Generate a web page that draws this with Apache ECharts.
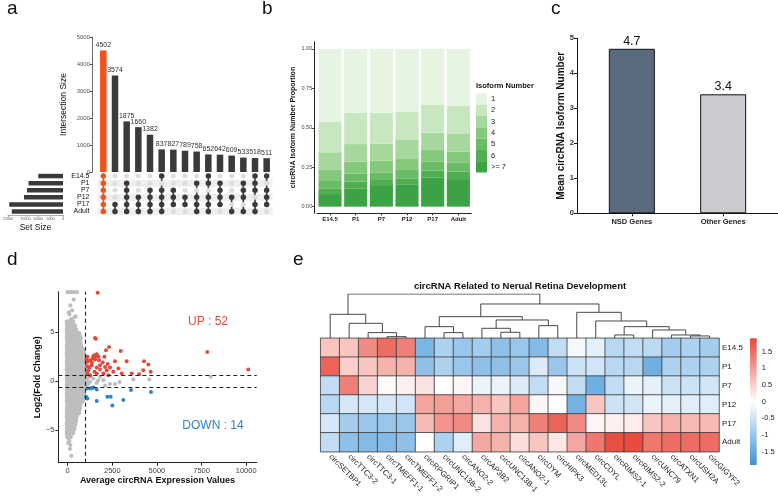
<!DOCTYPE html>
<html><head><meta charset="utf-8">
<script src="https://cdn.jsdelivr.net/npm/echarts@6/dist/echarts.min.js"></script>
<style>html,body{margin:0;padding:0;background:#fff}#c{width:778px;height:496px}</style>
</head><body><div id="c"></div>
<script>
// ================= DATA =================
// Panel a (UpSet)
const upsetCounts = [4502,3574,1875,1660,1382,837,827,789,758,652,642,609,533,518,511];
const upsetMembers = [
  ['E14.5','P1','P7','P12','P17','Adult'],
  ['P17','Adult'],
  ['P1','P7','P12','P17','Adult'],
  ['P12','P17','Adult'],
  ['P7','P12','P17','Adult'],
  ['E14.5','P7','P12','P17','Adult'],
  ['P7','P12','P17'],
  ['P12','P17'],
  ['P1','P12','P17','Adult'],
  ['E14.5','P1','P12','P17','Adult'],
  ['P1','P7','P12','P17'],
  ['P12','Adult'],
  ['P1','P7','P12','Adult'],
  ['E14.5','P1','P7','P17','Adult'],
  ['E14.5','P7','P12','P17']
];
const setNames = ['E14.5','P1','P7','P12','P17','Adult'];
const setSizes = [9900,13800,14400,15600,21500,20500];

// Panel b
const stages = ['E14.5','P1','P7','P12','P17','Adult'];
const isoLevels = ['1','2','3','4','5','6','>= 7'];
const propIso1 = [0.461,0.404,0.404,0.397,0.355,0.362];
const propIso2 = [0.194,0.199,0.196,0.176,0.176,0.177];
const propIso3 = [0.112,0.112,0.108,0.125,0.110,0.112];
const propIso4 = [0.070,0.076,0.076,0.069,0.074,0.068];
const propIso5 = [0.047,0.050,0.047,0.053,0.057,0.059];
const propIso6 = [0.036,0.043,0.038,0.038,0.042,0.047];
const propIso7 = [0.080,0.116,0.131,0.142,0.186,0.175];
const propTicks = [0,0.25,0.5,0.75,1];

// Panel c
const geneGroups = ['NSD Genes','Other Genes'];
const meanIsoform = [4.7, 3.4];

// Panel d (MA plot)
const foldCut = 0.585;
const exprCut = 1000;
const maUp = [
  [1680,9.0],[1531,4.39],[1580,4.3],
  [1437,2.53],[1550,2.64],[1624,2.74],[1400,2.30],[1531,2.2],[1251,2.13],[1101,1.96],[1718,2.47],[1101,2.47],
  [2147,3.14],[2315,3.48],[2969,3.07],
  [2054,2.47],[2651,2.03],[3305,2.03],[4275,2.03],[4518,1.69],[4238,1.11],[3585,0.78],[4000,0.71],[4650,0.95],
  [7823,2.97],[10119,1.18],
  [1811,1.62],[2091,1.45],[2184,1.11],[1811,1.18],[1158,1.11],[1214,1.39],[1344,1.62],[1624,1.39],[2371,1.39],
  [2558,0.95],[2838,1.28],[3025,0.78],[1998,0.78],[1624,0.78],[1101,0.78],[1251,0.61],[2278,0.61],
  [1755,2.13],[1960,1.89],[1101,1.52],[1480,2.6],[1600,2.5],[1350,1.9],[2240,1.75],[1050,2.2],[1500,0.95]
];
const maDown = [
  [1288,-0.74],[1437,-0.64],[1624,-0.84],[1120,-0.74],[1027,-1.59],[1101,-1.76],[1624,-2.03],
  [2222,-1.59],[2408,-1.59],[2502,-2.47],[3118,-1.93],[3547,-0.91],[4667,-1.11],[1350,-0.7]
];
// dense grey core of non-significant circRNAs: [log2FC, [expression values...]]
const maGreyCore = [
  [6.0,[0,150,260]],
  [5.6,[20,190,360]],
  [5.2,[0,210,420]],
  [4.8,[10,230,460,610]],
  [4.4,[0,240,480,680]],
  [4.0,[20,220,440,650]],
  [3.6,[0,250,470,700]],
  [3.2,[10,230,460,690,820]],
  [2.8,[0,240,480,700,860]],
  [2.4,[20,220,450,680,880]],
  [2.0,[0,250,470,710,900]],
  [1.6,[10,230,460,690,930]],
  [1.2,[0,240,480,700,940]],
  [0.8,[20,220,450,680,910]],
  [0.4,[0,250,470,710,950]],
  [0.0,[10,230,460,690,930]],
  [-0.4,[0,240,480,700,940]],
  [-0.8,[20,220,450,680,900]],
  [-1.2,[0,250,470,710,870]],
  [-1.6,[10,230,460,690,830]],
  [-2.0,[0,240,480,700,790]],
  [-2.4,[20,220,450,660]],
  [-2.8,[0,250,470,630]],
  [-3.2,[10,230,450,590]],
  [-3.6,[0,240,440]],
  [-4.0,[20,220,410]],
  [-4.4,[0,230,370]],
  [-4.8,[10,200,320]],
  [-5.2,[0,170,260]],
  [-5.6,[20,120]]
];
const maGreyExtra = [
  [0,9.05],[120,9.05],[250,9.05],[380,9.05],[520,9.05],
  [330,8.3],[150,7.7],[250,7.2],[100,6.8],[380,6.5],[60,7.0],[200,6.3],[450,6.6],
  [100,-6.1],[150,-6.5],[200,-7.6],[30,-6.3],[120,-6.9],[60,-5.9],
  [1811,0.44],[2371,-0.3],[2651,-0.3],[3678,0.17],[4574,0.17],[8010,0.44],[1437,0.27],[1251,-0.07],
  [1624,-0.17],[1998,0.1],[1100,0.3],[1150,-0.3],[1300,0.45],[2100,-0.45],[1700,0.05],[2900,-0.1],[1050,0.0]
];
const maXTicks = [0,2500,5000,7500,10000];
const maYTicks = [-5,0,5];

// Panel e (heatmap)
const heatCols = ['circSETBP1','circTTC3-2','circTTC3-1','circTMEFF1-1','circTMEFF1-2','circRPGRIP1','circUNC13B-2',
  'circANO2-2','circAP3B2','circUNC13B-1','circANO2-1','circDYM','circHIPK3','circMED13L','circCDYL','circRIMS2-1',
  'circRIMS2-2','circUNC79','circATXN1','circUSH2A','circGIGYF2'];
const heatRows = ['E14.5','P1','P7','P12','P17','Adult'];
const heatE145  = [0.6,0.6,1.2,1.5,1.3,-1.3,-0.8,-1.0,-0.9,-1.1,-1.0,-1.2,-0.6,-0.1,-0.25,-0.7,-0.6,-0.65,-0.9,-0.8,-0.9];
const heatP1    = [1.6,0.5,0.6,0.8,0.8,-1.1,-0.8,-1.0,-1.1,-1.1,-1.0,-0.35,-1.0,-0.5,-0.45,-0.7,-0.7,-1.4,-0.8,-0.8,-0.8];
const heatP7    = [-0.6,1.3,0.45,0.05,0.15,0.3,0.0,0.1,-0.2,-0.2,-0.35,-0.6,-0.1,-0.6,-1.4,-0.6,-0.2,-0.25,-0.5,-0.5,-0.45];
const heatP12   = [-0.7,-0.4,-0.4,-0.4,-0.45,0.95,1.0,0.9,0.8,0.6,0.95,0.1,0.0,-1.35,0.6,-0.5,-0.45,-0.2,-0.25,-0.3,-0.3];
const heatP17   = [-0.4,-0.9,-1.0,-1.0,-1.0,0.7,1.1,1.2,0.3,0.8,0.8,1.3,1.6,1.2,0.1,0.15,0.2,0.6,0.8,0.7,0.7];
const heatAdult = [-0.6,-1.1,-1.2,-1.2,-1.1,0.0,-0.8,-0.3,0.9,0.8,0.35,0.6,0.25,0.9,1.4,1.8,1.85,1.4,1.5,1.5,1.5];
const heatMin = -1.9, heatMax = 1.9;
const heatTicks = [-1.5,-1,-0.5,0,0.5,1,1.5];
// column dendrogram: [mergeHeight, left, right]; leaves are column indices
const colTree = [133,
  [72, 0, [45, 1, [17, 2, [5, 3, 4]]]],
  [103,
    [65, [35, 5, [17, 6, 7]], [55, [30, 8, [18, 9, 10]], [38, 11, 12]]],
    [78, 13, [52, 14, [35, [10, 15, 16], [25, 17, [10, 18, [7, 19, 20]]]]]]
  ]
];

// ================= STYLE =================
const FONT = '"Liberation Sans", Arial, Helvetica, sans-serif';
const ORANGE = '#f4511e', DARK = '#3a3a3a';
const greens = ['#e6f4e2','#c8e7c1','#a6d89e','#84c87c','#69bb66','#50ae50','#3da146'];
const HEAT_LO = '#3d93d8', HEAT_HI = '#e8463a';
const GREY_PT = '#bebebe';

// ================= BUILD =================
const revSets = setNames.slice().reverse();
const rowIdx = n => revSets.indexOf(n);
const colLabels = upsetCounts.map(String);

const gridDots = [];
colLabels.forEach((c, i) => revSets.forEach((r, j) => gridDots.push([i, j])));
const activeDots = [], connectors = [];
upsetMembers.forEach((m, i) => {
  const col = i === 0 ? ORANGE : DARK;
  const rs = m.map(rowIdx);
  rs.forEach(r => activeDots.push({value: [i, r], itemStyle: {color: col}}));
  connectors.push({value: [i, Math.min(...rs), Math.max(...rs)], itemStyle: {color: col}});
});

const isoProps = [propIso1, propIso2, propIso3, propIso4, propIso5, propIso6, propIso7];

const maGreyDense = [];
maGreyCore.forEach(([y, xs]) => xs.forEach(x => maGreyDense.push([x, y])));

const heatByRow = [heatE145, heatP1, heatP7, heatP12, heatP17, heatAdult];
const heatData = [];
heatByRow.forEach((row, r) => row.forEach((v, c) => heatData.push([c, r, v])));

const dendroSegs = [];
function buildDendro(node) {
  if (typeof node === 'number') return {x: node + 0.5, h: 0};
  const a = buildDendro(node[1]), b = buildDendro(node[2]);
  dendroSegs.push([[a.x, a.h], [a.x, node[0]], [b.x, node[0]], [b.x, b.h]]);
  return {x: (a.x + b.x) / 2, h: node[0]};
}
buildDendro(colTree);

const minus = v => (v < 0 ? '\u2212' + Math.abs(v) : String(v));
const plain = v => String(v);

const series = [];
// upset bars
series.push({type: 'bar', xAxisIndex: 0, yAxisIndex: 0, barWidth: 6.5,
  data: upsetCounts.map((v, i) => ({value: v, itemStyle: {color: i === 0 ? ORANGE : DARK}})),
  label: {show: true, position: 'top', distance: 2, fontSize: 7, color: '#333'}});
// grey matrix dots
series.push({type: 'scatter', xAxisIndex: 1, yAxisIndex: 1, symbolSize: 5, itemStyle: {color: '#dddddd', opacity: 1}, data: gridDots, silent: true});
// connectors
series.push({type: 'custom', xAxisIndex: 1, yAxisIndex: 1, data: connectors,
  renderItem: (p, api) => {
    const a = api.coord([api.value(0), api.value(1)]), b = api.coord([api.value(0), api.value(2)]);
    return {type: 'line', shape: {x1: a[0], y1: a[1], x2: b[0], y2: b[1]}, style: {stroke: api.visual('color'), lineWidth: 1.6}};
  }});
// active dots
series.push({type: 'scatter', xAxisIndex: 1, yAxisIndex: 1, symbolSize: 5.5, itemStyle: {opacity: 1}, data: activeDots, z: 5});
// set size bars
series.push({type: 'bar', xAxisIndex: 2, yAxisIndex: 2, barWidth: 4.5, itemStyle: {color: DARK},
  data: setSizes.slice().reverse()});
// panel b stacked
for (let k = isoLevels.length - 1; k >= 0; k--) {
  series.push({type: 'bar', name: isoLevels[k], stack: 'iso', xAxisIndex: 3, yAxisIndex: 3, barWidth: '90%',
    itemStyle: {color: greens[k]}, data: isoProps[k]});
}
// panel c
series.push({type: 'bar', xAxisIndex: 4, yAxisIndex: 4, barWidth: 46,
  data: meanIsoform.map((v, i) => ({value: [i + 1, v], itemStyle: {color: i === 0 ? '#5b6b7e' : '#c9cbce', borderColor: '#111', borderWidth: 1}})),
  label: {show: true, position: 'top', distance: 1, fontSize: 12.5, color: '#111', formatter: p => p.value[1].toFixed(1)}});
// panel d
series.push({type: 'scatter', xAxisIndex: 5, yAxisIndex: 5, symbolSize: 6, itemStyle: {color: GREY_PT, opacity: 1}, data: maGreyDense, silent: true,
  markLine: {silent: true, symbol: 'none', label: {show: false}, lineStyle: {color: '#222', type: [4, 3], width: 1.1},
    data: [{yAxis: foldCut}, {yAxis: -foldCut}, {xAxis: exprCut}]}});
series.push({type: 'scatter', xAxisIndex: 5, yAxisIndex: 5, symbolSize: 4.2, itemStyle: {color: GREY_PT, opacity: 1}, data: maGreyExtra, silent: true});
series.push({type: 'scatter', xAxisIndex: 5, yAxisIndex: 5, symbolSize: 4, itemStyle: {color: '#e8473b', opacity: 1}, data: maUp});
series.push({type: 'scatter', xAxisIndex: 5, yAxisIndex: 5, symbolSize: 4, itemStyle: {color: '#2f85c8', opacity: 1}, data: maDown});
// heatmap
const heatIdx = series.length;
series.push({type: 'heatmap', xAxisIndex: 6, yAxisIndex: 6, data: heatData,
  itemStyle: {borderColor: '#3a3a3a', borderWidth: 0.8}});
// dendrogram
series.push({type: 'lines', coordinateSystem: 'cartesian2d', xAxisIndex: 7, yAxisIndex: 7, polyline: true, silent: true,
  lineStyle: {color: '#333', width: 0.9, opacity: 1}, data: dendroSegs.map(c => ({coords: c}))});
// colorbar
series.push({type: 'custom', xAxisIndex: 8, yAxisIndex: 8, data: [[0]], silent: true,
  renderItem: (p, api) => {
    const a = api.coord([0, heatMax]), b = api.coord([1, heatMin]);
    return {type: 'rect', shape: {x: a[0], y: a[1], width: b[0] - a[0], height: b[1] - a[1]},
      style: {fill: new echarts.graphic.LinearGradient(0, 0, 0, 1, [{offset: 0, color: HEAT_HI}, {offset: 0.5, color: '#ffffff'}, {offset: 1, color: HEAT_LO}])}};
  }});

const noSplit = {show: false};
const txt = (text, x, y, o) => Object.assign({type: 'text', x, y, silent: true,
  style: Object.assign({text, fontFamily: FONT, fill: '#111', align: 'left', verticalAlign: 'middle'}, o)});

const option = {
  animation: false,
  textStyle: {fontFamily: FONT},
  grid: [
    {left: 97.5, top: 37, width: 175, height: 135},
    {left: 97.5, top: 172.5, width: 175, height: 42.6},
    {left: 1.4, top: 172.5, width: 61.6, height: 42.6},
    {left: 317.2, top: 41.7, width: 154, height: 171.6},
    {left: 577, top: 38.3, width: 201, height: 175},
    {left: 58.3, top: 291.7, width: 198.4, height: 171},
    {left: 320.7, top: 338.3, width: 398.3, height: 113.4},
    {left: 320.7, top: 294, width: 398.3, height: 44.3},
    {left: 750, top: 338.3, width: 6.7, height: 126.7}
  ],
  xAxis: [
    {gridIndex: 0, type: 'category', data: colLabels, show: false},
    {gridIndex: 1, type: 'category', data: colLabels, show: false},
    {gridIndex: 2, type: 'value', inverse: true, min: 0, max: 22000, interval: 5000,
      axisLine: {show: true, lineStyle: {color: '#777', width: 0.6}}, axisTick: {show: true, length: 2, lineStyle: {color: '#777', width: 0.6}},
      axisLabel: {fontSize: 3.6, color: '#555', margin: 2, formatter: plain, showMinLabel: true, showMaxLabel: true}, splitLine: noSplit,
      name: 'Set Size', nameLocation: 'middle', nameGap: 8, nameTextStyle: {fontSize: 8.5, color: '#111'}},
    {gridIndex: 3, type: 'category', data: stages,
      axisLine: {onZero: false, lineStyle: {color: '#222', width: 1}}, axisTick: {show: true, length: 2, alignWithLabel: true, lineStyle: {color: '#333'}},
      axisLabel: {fontSize: 6, fontWeight: 'bold', color: '#222', margin: 3, interval: 0}},
    {gridIndex: 4, type: 'value', min: 0.4, max: 2.6,
      axisLine: {show: true, onZero: false, lineStyle: {color: '#111', width: 1}},
      axisTick: {show: true, customValues: [1, 2], length: 3, lineStyle: {color: '#111'}},
      axisLabel: {customValues: [1, 2], formatter: v => geneGroups[Math.round(v) - 1], fontSize: 7.5, fontWeight: 'bold', color: '#222', margin: 5},
      splitLine: noSplit},
    {gridIndex: 5, type: 'value', min: -527, max: 10590,
      axisLine: {show: true, onZero: false, lineStyle: {color: '#222', width: 1}},
      axisTick: {show: true, customValues: maXTicks, length: 3, lineStyle: {color: '#222'}},
      axisLabel: {customValues: maXTicks, formatter: plain, fontSize: 7.5, color: '#444', margin: 4}, splitLine: noSplit,
      name: 'Average circRNA Expression Values', nameLocation: 'middle', nameGap: 13,
      nameTextStyle: {fontSize: 9, fontWeight: 'bold', color: '#111'}},
    {gridIndex: 6, type: 'category', data: heatCols, axisLine: {show: false}, axisTick: {show: false},
      axisLabel: {rotate: -45, interval: 0, fontSize: 7.8, color: '#222', margin: 4}},
    {gridIndex: 7, type: 'value', min: 0, max: 21, show: false},
    {gridIndex: 8, type: 'value', min: 0, max: 1, show: false}
  ],
  yAxis: [
    {gridIndex: 0, type: 'value', min: 0, max: 5000, interval: 1000, offset: 5.5,
      axisLine: {show: true, lineStyle: {color: '#444', width: 0.8}}, axisTick: {show: true, length: 2, lineStyle: {color: '#444'}},
      axisLabel: {fontSize: 6, color: '#555', margin: 2, formatter: plain}, splitLine: noSplit,
      name: 'Intersection Size', nameLocation: 'middle', nameGap: 24, nameTextStyle: {fontSize: 8.5, color: '#111'}},
    {gridIndex: 1, type: 'category', data: revSets, axisLine: {show: false}, axisTick: {show: false},
      axisLabel: {fontSize: 7, color: '#111', margin: 8, interval: 0},
      splitArea: {show: true, interval: 0, areaStyle: {color: ['#efefef', '#ffffff']}}},
    {gridIndex: 2, type: 'category', data: revSets, show: false},
    {gridIndex: 3, type: 'value', min: -0.042, max: 1.046, offset: 3,
      axisLine: {show: true, onZero: false, lineStyle: {color: '#222', width: 1}},
      axisTick: {show: true, customValues: propTicks, length: 2, lineStyle: {color: '#333'}},
      axisLabel: {customValues: propTicks, formatter: v => v.toFixed(2), fontSize: 5.5, color: '#444', margin: 2}, splitLine: noSplit,
      name: 'circRNA Isoform Number Proportion', nameLocation: 'middle', nameGap: 18,
      nameTextStyle: {fontSize: 7, fontWeight: 'bold', color: '#111'}},
    {gridIndex: 4, type: 'value', min: 0, max: 5, interval: 1,
      axisLine: {show: true, onZero: false, lineStyle: {color: '#111', width: 1}},
      axisTick: {show: true, length: 3, lineStyle: {color: '#111'}},
      axisLabel: {fontSize: 7.5, fontWeight: 'bold', color: '#333', margin: 3}, splitLine: noSplit,
      name: 'Mean circRNA Isoform Number', nameLocation: 'middle', nameGap: 10,
      nameTextStyle: {fontSize: 10, fontWeight: 'bold', color: '#111'}},
    {gridIndex: 5, type: 'value', min: -8.3, max: 9.1,
      axisLine: {show: true, onZero: false, lineStyle: {color: '#222', width: 1}},
      axisTick: {show: true, customValues: maYTicks, length: 3, lineStyle: {color: '#222'}},
      axisLabel: {customValues: maYTicks, formatter: minus, fontSize: 7.5, color: '#444', margin: 4}, splitLine: noSplit,
      name: 'Log2(Fold Change)', nameLocation: 'middle', nameGap: 14,
      nameTextStyle: {fontSize: 9, fontWeight: 'bold', color: '#111'}},
    {gridIndex: 6, type: 'category', data: heatRows, inverse: true, position: 'right',
      axisLine: {show: false}, axisTick: {show: false}, axisLabel: {fontSize: 8, color: '#222', margin: 3, interval: 0}},
    {gridIndex: 7, type: 'value', min: 0, max: 133, show: false},
    {gridIndex: 8, type: 'value', min: heatMin, max: heatMax, position: 'right',
      axisLine: {show: false}, axisTick: {show: false}, splitLine: noSplit,
      axisLabel: {customValues: heatTicks, fontSize: 7.5, color: '#222', margin: 5}}
  ],
  legend: {left: 476, top: 93.4, orient: 'vertical', padding: 0, itemGap: 0, itemWidth: 11, itemHeight: 11.3,
    icon: 'rect', selectedMode: false, data: isoLevels, textStyle: {fontSize: 7.5, color: '#222', padding: [0, 0, 0, -1]}},
  visualMap: {show: false, type: 'continuous', seriesIndex: heatIdx, dimension: 2, min: heatMin, max: heatMax,
    inRange: {color: [HEAT_LO, '#ffffff', HEAT_HI]}},
  graphic: [
    txt('a', 7, 9, {fontSize: 19}),
    txt('b', 262, 9, {fontSize: 19}),
    txt('c', 551, 9, {fontSize: 19}),
    txt('d', 7, 260, {fontSize: 19}),
    txt('e', 293, 260, {fontSize: 19}),
    txt('Isoform Number', 476, 86, {fontSize: 7.5, fontWeight: 'bold'}),
    txt('UP : ' + maUp.length, 208, 321.7, {fontSize: 12, fill: '#e8473b', align: 'center'}),
    txt('DOWN : ' + maDown.length, 213, 425.7, {fontSize: 12, fill: '#2f85c8', align: 'center'}),
    txt('circRNA Related to Nerual Retina Development', 520, 286.7, {fontSize: 9.5, fontWeight: 'bold', align: 'center'})
  ],
  series
};
const chart = echarts.init(document.getElementById('c'), null, {renderer: 'canvas'});
chart.setOption(option);
</script></body></html>
